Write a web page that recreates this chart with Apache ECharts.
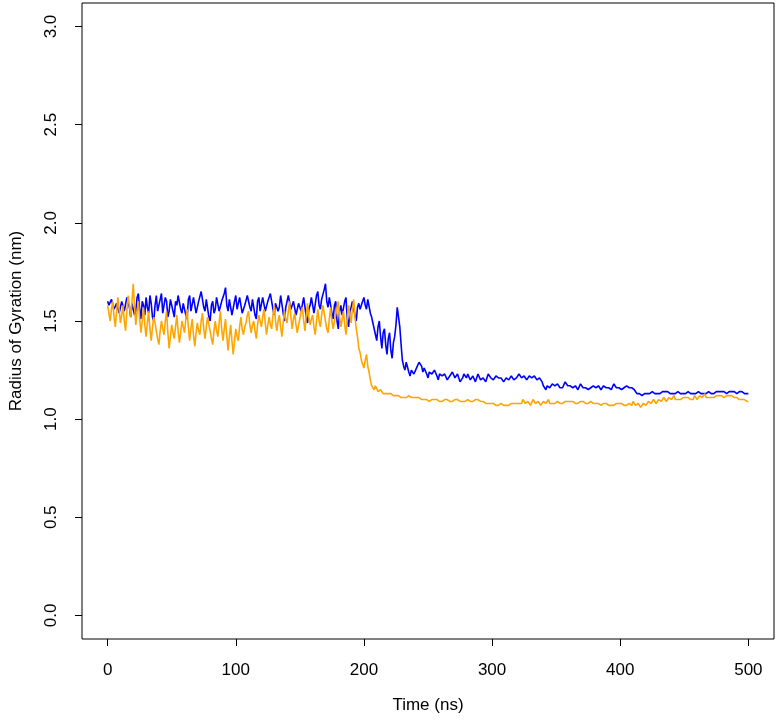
<!DOCTYPE html>
<html>
<head>
<meta charset="utf-8">
<title>Radius of Gyration</title>
<script src="https://cdn.jsdelivr.net/npm/echarts@6/dist/echarts.min.js"></script>
<style>
  html, body { margin: 0; padding: 0; background: #fff; }
  #chart { width: 779px; height: 722px; }
</style>
</head>
<body>
<div id="chart"></div>
<script>
// sampling step of the trajectories (ns)
const timeStep = 1;

// tick labels
const xTicks = [0, 100, 200, 300, 400, 500];
const yTicks = [0, 0.5, 1, 1.5, 2, 2.5, 3];

// blue trajectory, one value per ns from 0 to 500
const blueRg = [
  1.60,1.58,1.57,1.61,1.62,1.56,1.55,1.59,1.60,1.54,
  1.53,1.60,1.61,1.55,1.56,1.62,1.63,1.57,1.52,1.59,
  1.60,1.53,1.55,1.62,1.64,1.56,1.51,1.60,1.58,1.53,
  1.62,1.57,1.54,1.63,1.59,1.52,1.50,1.58,1.63,1.55,
  1.56,1.61,1.64,1.54,1.53,1.62,1.60,1.52,1.55,1.61,
  1.62,1.55,1.52,1.60,1.58,1.63,1.64,1.56,1.54,1.59,
  1.60,1.53,1.51,1.61,1.63,1.55,1.56,1.62,1.61,1.54,
  1.53,1.60,1.59,1.65,1.64,1.57,1.55,1.61,1.62,1.52,
  1.50,1.58,1.60,1.54,1.56,1.62,1.63,1.55,1.54,1.60,
  1.61,1.64,1.67,1.58,1.55,1.61,1.60,1.53,1.52,1.60,
  1.63,1.56,1.57,1.62,1.61,1.54,1.53,1.58,1.59,1.63,
  1.64,1.57,1.55,1.61,1.60,1.53,1.51,1.60,1.62,1.55,
  1.56,1.62,1.63,1.55,1.54,1.60,1.59,1.64,1.65,1.56,
  1.53,1.59,1.60,1.55,1.57,1.63,1.62,1.54,1.50,1.57,
  1.58,1.63,1.64,1.56,1.55,1.60,1.61,1.53,1.52,1.59,
  1.60,1.55,1.54,1.62,1.63,1.52,1.49,1.56,1.58,1.62,
  1.61,1.54,1.53,1.63,1.65,1.58,1.56,1.61,1.62,1.66,
  1.69,1.60,1.57,1.62,1.63,1.54,1.51,1.58,1.60,1.50,
  1.46,1.55,1.58,1.53,1.52,1.60,1.62,1.51,1.47,1.55,
  1.57,1.60,1.61,1.53,1.50,1.57,1.59,1.56,1.55,1.60,
  1.62,1.58,1.56,1.61,1.60,1.54,1.52,1.49,1.48,1.43,
  1.40,1.47,1.50,1.42,1.36,1.44,1.46,1.38,1.33,1.41,
  1.44,1.35,1.31,1.39,1.42,1.48,1.57,1.52,1.47,1.38,
  1.30,1.27,1.25,1.29,1.28,1.24,1.22,1.25,1.26,1.23,
  1.23,1.26,1.27,1.29,1.30,1.27,1.24,1.26,1.27,1.23,
  1.21,1.24,1.25,1.23,1.22,1.25,1.26,1.22,1.20,1.23,
  1.24,1.22,1.21,1.23,1.23,1.20,1.19,1.22,1.22,1.24,
  1.24,1.21,1.20,1.23,1.22,1.19,1.18,1.21,1.23,1.22,
  1.21,1.23,1.24,1.20,1.19,1.22,1.22,1.19,1.20,1.23,
  1.23,1.20,1.19,1.21,1.22,1.19,1.20,1.23,1.24,1.21,
  1.21,1.20,1.19,1.22,1.23,1.21,1.20,1.21,1.22,1.19,
  1.18,1.21,1.22,1.20,1.20,1.22,1.23,1.20,1.19,1.21,
  1.21,1.23,1.24,1.21,1.20,1.22,1.22,1.20,1.19,1.22,
  1.23,1.21,1.20,1.22,1.22,1.20,1.19,1.21,1.21,1.19,
  1.17,1.16,1.15,1.17,1.18,1.16,1.16,1.18,1.19,1.17,
  1.16,1.18,1.18,1.16,1.15,1.16,1.17,1.19,1.19,1.17,
  1.16,1.17,1.18,1.16,1.15,1.17,1.17,1.15,1.16,1.18,
  1.18,1.16,1.15,1.16,1.17,1.15,1.14,1.16,1.16,1.17,
  1.18,1.16,1.15,1.17,1.17,1.15,1.16,1.17,1.18,1.16,
  1.15,1.16,1.17,1.15,1.16,1.18,1.18,1.16,1.15,1.16,
  1.17,1.15,1.15,1.16,1.16,1.17,1.18,1.16,1.15,1.16,
  1.16,1.15,1.14,1.13,1.12,1.13,1.13,1.12,1.11,1.13,
  1.14,1.13,1.12,1.13,1.13,1.14,1.15,1.13,1.12,1.13,
  1.14,1.13,1.12,1.14,1.15,1.14,1.13,1.14,1.14,1.13,
  1.12,1.13,1.14,1.13,1.13,1.14,1.15,1.13,1.12,1.13,
  1.14,1.13,1.13,1.14,1.15,1.13,1.12,1.13,1.14,1.13,
  1.13,1.14,1.15,1.13,1.12,1.13,1.14,1.13,1.13,1.14,
  1.15,1.13,1.12,1.13,1.14,1.14,1.13,1.14,1.15,1.14,
  1.13,1.14,1.14,1.13,1.12,1.14,1.15,1.14,1.13,1.14,
  1.14,1.13,1.12,1.14,1.15,1.14,1.13,1.13,1.14,1.13,
  1.13
];

// orange trajectory, same sampling
const orangeRg = [
  1.58,1.54,1.50,1.56,1.60,1.52,1.47,1.55,1.62,1.56,
  1.49,1.53,1.58,1.50,1.45,1.55,1.63,1.58,1.52,1.60,
  1.69,1.57,1.48,1.55,1.60,1.51,1.44,1.50,1.57,1.48,
  1.42,1.49,1.55,1.46,1.40,1.47,1.52,1.49,1.45,1.41,
  1.38,1.45,1.50,1.46,1.43,1.50,1.55,1.44,1.36,1.42,
  1.48,1.44,1.41,1.47,1.53,1.45,1.39,1.44,1.50,1.47,
  1.44,1.51,1.56,1.47,1.40,1.46,1.51,1.43,1.37,1.44,
  1.49,1.45,1.43,1.50,1.54,1.46,1.41,1.47,1.52,1.48,
  1.45,1.41,1.38,1.45,1.50,1.45,1.42,1.49,1.55,1.46,
  1.40,1.46,1.51,1.42,1.35,1.42,1.48,1.40,1.33,1.40,
  1.46,1.42,1.40,1.47,1.52,1.46,1.43,1.47,1.49,1.53,
  1.55,1.48,1.44,1.48,1.50,1.45,1.41,1.48,1.53,1.50,
  1.47,1.52,1.56,1.49,1.43,1.48,1.52,1.48,1.46,1.53,
  1.58,1.50,1.45,1.50,1.53,1.47,1.42,1.49,1.55,1.51,
  1.49,1.55,1.60,1.52,1.46,1.51,1.54,1.48,1.44,1.48,
  1.51,1.55,1.57,1.50,1.45,1.53,1.59,1.52,1.48,1.51,
  1.53,1.47,1.43,1.50,1.56,1.50,1.47,1.53,1.58,1.54,
  1.50,1.46,1.44,1.51,1.57,1.50,1.46,1.50,1.53,1.57,
  1.60,1.52,1.47,1.51,1.55,1.48,1.43,1.51,1.58,1.53,
  1.49,1.56,1.61,1.52,1.46,1.42,1.36,1.34,1.30,1.28,
  1.26,1.30,1.33,1.27,1.24,1.20,1.17,1.16,1.15,1.17,
  1.16,1.14,1.13,1.15,1.15,1.13,1.12,1.13,1.14,1.13,
  1.12,1.13,1.14,1.12,1.11,1.12,1.13,1.12,1.12,1.11,
  1.10,1.11,1.12,1.11,1.11,1.12,1.13,1.11,1.10,1.11,
  1.12,1.11,1.10,1.11,1.11,1.10,1.09,1.10,1.11,1.10,
  1.10,1.09,1.08,1.10,1.11,1.10,1.09,1.10,1.10,1.09,
  1.08,1.09,1.10,1.10,1.09,1.10,1.11,1.09,1.08,1.09,
  1.10,1.10,1.09,1.10,1.11,1.09,1.08,1.09,1.10,1.09,
  1.09,1.10,1.11,1.09,1.08,1.09,1.10,1.10,1.09,1.10,
  1.10,1.09,1.08,1.09,1.09,1.08,1.07,1.08,1.09,1.08,
  1.07,1.08,1.08,1.07,1.06,1.07,1.08,1.08,1.07,1.07,
  1.06,1.07,1.08,1.07,1.07,1.08,1.09,1.08,1.07,1.08,
  1.09,1.08,1.07,1.08,1.10,1.09,1.08,1.09,1.09,1.08,
  1.07,1.08,1.10,1.09,1.08,1.09,1.09,1.08,1.07,1.08,
  1.09,1.09,1.08,1.09,1.10,1.08,1.07,1.08,1.09,1.08,
  1.08,1.09,1.10,1.08,1.07,1.08,1.09,1.09,1.08,1.09,
  1.10,1.09,1.08,1.09,1.09,1.08,1.07,1.08,1.09,1.09,
  1.08,1.09,1.09,1.08,1.07,1.08,1.08,1.09,1.10,1.08,
  1.07,1.08,1.09,1.08,1.08,1.07,1.07,1.08,1.09,1.08,
  1.08,1.07,1.06,1.07,1.08,1.07,1.07,1.08,1.09,1.08,
  1.07,1.08,1.08,1.07,1.06,1.07,1.08,1.08,1.07,1.07,
  1.09,1.08,1.07,1.08,1.08,1.07,1.06,1.07,1.08,1.07,
  1.07,1.08,1.09,1.08,1.08,1.09,1.10,1.09,1.08,1.09,
  1.10,1.10,1.09,1.10,1.11,1.10,1.09,1.10,1.11,1.10,
  1.10,1.11,1.12,1.10,1.09,1.10,1.11,1.10,1.10,1.11,
  1.12,1.11,1.10,1.11,1.11,1.10,1.09,1.10,1.12,1.11,
  1.10,1.11,1.12,1.11,1.11,1.12,1.13,1.11,1.10,1.11,
  1.12,1.11,1.10,1.11,1.11,1.12,1.13,1.12,1.11,1.12,
  1.12,1.11,1.10,1.12,1.13,1.12,1.11,1.12,1.12,1.11,
  1.10,1.11,1.12,1.10,1.09,1.10,1.11,1.10,1.09,1.09,
  1.09
];

const toPairs = (arr) => arr.map((v, i) => [i * timeStep, v]);

const font = "'Liberation Sans', Arial, sans-serif";
const fontSize = 17;

const chart = echarts.init(document.getElementById("chart"), null, { renderer: "canvas" });

chart.setOption({
  animation: false,
  backgroundColor: "#fff",
  grid: {
    left: 79,
    right: 5,
    top: 3,
    bottom: 83,
    show: true,
    borderColor: "#000",
    borderWidth: 1,
  },
  xAxis: {
    type: "value",
    min: -20,
    max: 520,
    name: "Time (ns)",
    nameLocation: "middle",
    nameGap: 58,
    nameTextStyle: { fontFamily: font, fontSize: fontSize, color: "#000" },
    axisLine: { show: false, onZero: false },
    splitLine: { show: false },
    axisTick: {
      show: true,
      length: 7,
      customValues: xTicks,
      lineStyle: { color: "#000" },
    },
    axisLabel: {
      customValues: xTicks,
      margin: 23,
      fontFamily: font,
      fontSize: fontSize,
      color: "#000",
    },
  },
  yAxis: {
    type: "value",
    min: -0.12,
    max: 3.12,
    name: "Radius of Gyration (nm)",
    nameLocation: "middle",
    nameGap: 57,
    nameTextStyle: { fontFamily: font, fontSize: fontSize, color: "#000" },
    axisLine: { show: false, onZero: false },
    splitLine: { show: false },
    axisTick: {
      show: true,
      length: 7,
      customValues: yTicks,
      lineStyle: { color: "#000" },
    },
    axisLabel: {
      customValues: yTicks,
      rotate: 90,
      margin: 22,
      fontFamily: font,
      fontSize: fontSize,
      color: "#000",
      formatter: (v) => v.toFixed(1),
    },
  },
  series: [
    {
      name: "blue",
      type: "line",
      data: toPairs(blueRg),
      showSymbol: false,
      symbol: "none",
      lineStyle: { color: "#0000FF", width: 1.6 },
      z: 2,
    },
    {
      name: "orange",
      type: "line",
      data: toPairs(orangeRg),
      showSymbol: false,
      symbol: "none",
      lineStyle: { color: "#FFA500", width: 1.6 },
      z: 3,
    },
  ],
});
</script>
</body>
</html>
